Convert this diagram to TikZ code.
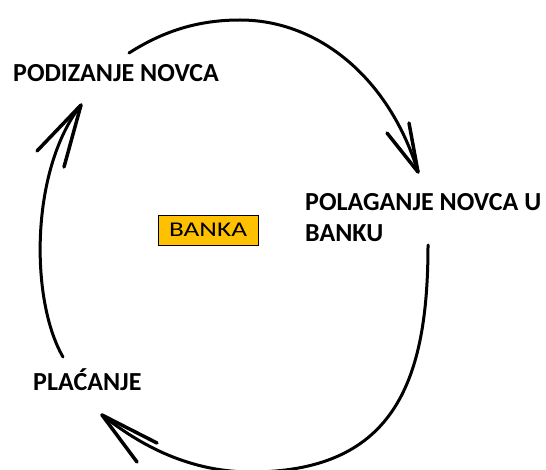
\documentclass[tikz,border=0pt]{standalone}
\usepackage{fontspec}
\setmainfont{Carlito}
\usetikzlibrary{positioning}
\definecolor{bankorange}{HTML}{FFC000}

\begin{document}
\begin{tikzpicture}[x=1pt, y=-1pt,
    label/.style={font=\bfseries\fontsize{26}{31}\selectfont, inner sep=0pt, anchor=base west, align=left},
    bank/.style={draw=black, line width=0.8pt, fill=bankorange, inner sep=0pt,
                 minimum width=100pt, minimum height=30pt, font=\fontsize{21}{24}\selectfont},
    flow/.style={line width=3pt, line cap=round},
    barb/.style={line width=3.5pt, line cap=round}]
    \useasboundingbox (0,0) rectangle (546,470);

    % Labels
    \node[label] (podizanje) at (13,82) {PODIZANJE NOVCA};
    \node[label] (polaganje) at (305,242) {POLAGANJE NOVCA U\\BANKU};
    \node[label] (placanje) at (33,390) {PLAĆANJE};
    \node[bank] (banka) at (208,230) {\scalebox{1.3}[1]{BANKA}};

    % Ends of the arcs
    \coordinate (topStart) at (129,53);
    \coordinate (topEnd) at (418,172);
    \coordinate (rightStart) at (428,245);
    \coordinate (rightEnd) at (102,415);
    \coordinate (leftStart) at (63,357);
    \coordinate (leftEnd) at (81,105);

    % Top arc
    \draw[flow] (topStart) .. controls (165,30) and (200,20) .. (240,20)
        .. controls (320,20) and (390,80) .. (topEnd);
    \draw[barb] (topEnd) -- ++(-31,-39);
    \draw[barb] (topEnd) -- ++(-9,-49);

    % Bottom arc
    \draw[flow] (rightStart) .. controls (428,380) and (395,470) .. (255,472)
        .. controls (190,473) and (140,445) .. (rightEnd);
    \draw[barb] (rightEnd) -- ++(55,28);
    \draw[barb] (rightEnd) -- ++(35,47);

    % Left arc
    \draw[flow] (leftStart) .. controls (30,300) and (30,170) .. (leftEnd);
    \draw[barb] (leftEnd) -- ++(-44,46);
    \draw[barb] (leftEnd) -- ++(-17,62);
\end{tikzpicture}
\end{document}
